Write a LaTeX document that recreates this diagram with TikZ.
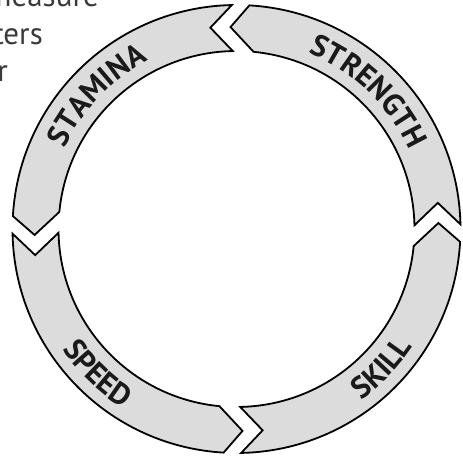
\documentclass[tikz,border=0pt]{standalone}
\usepackage{fontspec}
\setmainfont{PT Sans}
\usetikzlibrary{decorations.text}
\definecolor{bandfill}{HTML}{DCDCDC}
\definecolor{inkgray}{HTML}{3A3A3A}
\definecolor{labelink}{HTML}{1A1A1A}
\begin{document}
\begin{tikzpicture}[x=1pt,y=1pt,
  piece/.style={draw=black, line width=1.8pt, fill=bandfill, line join=miter},
  frag/.style={font=\fontsize{31}{34}\selectfont, text=inkgray, inner sep=0pt, anchor=base east},
  toplabel/.style={decorate, decoration={text along path, text align=center, text color=labelink,
      text={|\bfseries\fontsize{30.5}{30.5}\selectfont|#1}}},
]
\useasboundingbox (-236.5pt,-228pt) rectangle (226.5pt,229pt);
\clip (-236.5pt,-228pt) rectangle (226.5pt,229pt);

% paragraph fragments cut by the left edge
\node[frag] (fragA) at (-137.5pt,222pt) {measure};
\node[frag] (fragB) at (-193.5pt,184pt) {ters};
\node[frag] (fragC) at (-228.5pt,147pt) {r};

% four chevron arc segments (counterclockwise arrows)
\foreach \J in {1.2, 91.2, 181.2, 271.2} {
  \draw[piece] (\J:224pt) -- ({\J+6.2}:203pt) -- (\J:178pt)
    arc[start angle=\J, end angle={\J+83.3}, radius=178pt]
    -- ({\J+90.5}:202pt) -- ({\J+85.5}:224pt)
    arc[start angle={\J+85.5}, end angle=\J, radius=224pt] -- cycle;
}

% labels along the arcs
\path[toplabel=STAMINA] (181.2:190pt) arc[start angle=181.2, end angle=91.2, radius=190pt];
\path[toplabel=STRENGTH] (91.2:190pt) arc[start angle=91.2, end angle=1.2, radius=190pt];
\path[toplabel=SPEED] (181.2:212pt) arc[start angle=181.2, end angle=271.2, radius=212pt];
\path[toplabel=SKILL] (271.2:212pt) arc[start angle=271.2, end angle=361.2, radius=212pt];
\end{tikzpicture}
\end{document}
